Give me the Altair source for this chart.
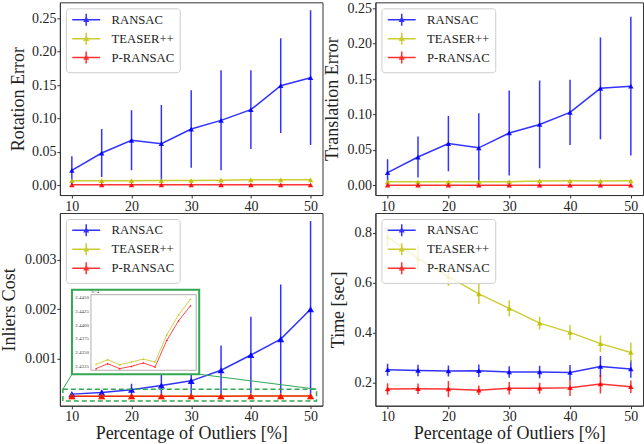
import altair as alt
import pandas as pd

# ---- data -------------------------------------------------------------
X = [10, 15, 20, 25, 30, 35, 40, 45, 50]
X_TICKS = [10, 20, 30, 40, 50]
SERIES = ["RANSAC", "TEASER++", "P-RANSAC"]
COLORS = ["#0000ff", "#bfbf00", "#ff0000"]

rot_ransac = [0.022, 0.048, 0.067, 0.062, 0.084, 0.097, 0.113, 0.149, 0.161]
rot_ransac_std = [0.021, 0.036, 0.045, 0.058, 0.058, 0.075, 0.059, 0.071, 0.101]
rot_teaser = [0.0065, 0.0066, 0.0066, 0.0067, 0.0068, 0.0072, 0.0078, 0.0079, 0.0079]
rot_teaser_std = [0.0005, 0.0005, 0.0005, 0.0005, 0.0005, 0.0006, 0.0006, 0.0006, 0.0006]
rot_prs = [0.0003, 0.0003, 0.0003, 0.0003, 0.0003, 0.0003, 0.0003, 0.0003, 0.0003]
rot_prs_std = [0.0002, 0.0002, 0.0002, 0.0002, 0.0002, 0.0002, 0.0002, 0.0002, 0.0002]

tr_ransac = [0.018, 0.040, 0.059, 0.053, 0.074, 0.086, 0.103, 0.137, 0.140]
tr_ransac_std = [0.019, 0.029, 0.039, 0.049, 0.060, 0.062, 0.046, 0.072, 0.098]
tr_teaser = [0.0050, 0.0050, 0.0050, 0.0051, 0.0052, 0.0062, 0.0064, 0.0060, 0.0064]
tr_teaser_std = [0.0005, 0.0005, 0.0005, 0.0005, 0.0005, 0.0006, 0.0006, 0.0006, 0.0006]
tr_prs = [0.0002, 0.0002, 0.0002, 0.0002, 0.0002, 0.0002, 0.0002, 0.0002, 0.0002]
tr_prs_std = [0.0002, 0.0002, 0.0002, 0.0002, 0.0002, 0.0002, 0.0002, 0.0002, 0.0002]

cost_ransac = [0.000284, 0.000318, 0.000371, 0.000458, 0.000552, 0.000766, 0.001074, 0.001395, 0.001997]
cost_ransac_std = [0.00002, 0.00005, 0.00012, 0.00022, 0.00030, 0.00050, 0.00077, 0.00110, 0.00178]
# TEASER++ / P-RANSAC inlier cost, in units of 1e-4
cost_teaser_e4 = [2.43274, 2.43359, 2.43268, 2.43317, 2.43371, 2.43317, 2.43820, 2.44184, 2.44470]
cost_prs_e4 = [2.43195, 2.43286, 2.43195, 2.43238, 2.43299, 2.43226, 2.43717, 2.44075, 2.44348]
cost_small_std = [0.000002, 0.000002, 0.000002, 0.000002, 0.000002, 0.000002, 0.000002, 0.000002, 0.000002]

time_ransac = [0.253, 0.250, 0.248, 0.249, 0.244, 0.244, 0.242, 0.266, 0.256]
time_ransac_std = [0.024, 0.023, 0.022, 0.025, 0.023, 0.025, 0.030, 0.042, 0.035]
time_teaser = [0.784, 0.698, 0.625, 0.556, 0.498, 0.439, 0.402, 0.357, 0.322]
time_teaser_std = [0.040, 0.050, 0.038, 0.041, 0.032, 0.025, 0.030, 0.033, 0.040]
time_prs = [0.176, 0.177, 0.176, 0.171, 0.179, 0.179, 0.181, 0.196, 0.185]
time_prs_std = [0.023, 0.021, 0.032, 0.019, 0.025, 0.022, 0.033, 0.038, 0.025]

inset_ticks = [2.4325, 2.4350, 2.4375, 2.4400, 2.4425, 2.4450]

# ---- styling ------------------------------------------------------------
FONT = "Liberation Serif"
GREEN = "#33a852"
X_DOMAIN = [8, 52]
PANEL_H = 193

# zoom window / inset placement (bottom-left panel data coordinates)
ZOOM_BOX = {"x0": 8.5, "x1": 51.0, "y0": 0.000143, "y1": 0.000383}
INSET_FRAME = {"x0": 10.02, "x1": 31.34, "y0": 0.000685, "y1": 0.002392}
INSET_AXES = {"x0": 13.2, "x1": 30.84, "y0": 0.000765, "y1": 0.002291}
INSET_XDOM = [7.87, 52.4]
INSET_YDOM = [2.43165, 2.44549]

LEGEND_SYMBOL = "M-1,0H4.6M1.8,-1.2V1.2M1.45,0.3H2.15L1.8,-0.4Z"


def legend():
    return alt.Legend(
        orient="top-left", offset=6, title=None,
        fillColor="rgba(255,255,255,0.8)", strokeColor="#cccccc", cornerRadius=3,
        padding=5, symbolType=LEGEND_SYMBOL, symbolSize=100, symbolStrokeWidth=1.5,
        labelFont=FONT, labelFontSize=12.7, labelColor="#222222", labelOffset=28,
        rowPadding=0,
    )


def series_frame(means, stds):
    rows = []
    for name, m, s in zip(SERIES, means, stds):
        for xv, mv, sv in zip(X, m, s):
            rows.append({"x": xv, "series": name, "mean": mv, "lo": mv - sv, "hi": mv + sv})
    return pd.DataFrame(rows)


def panel(df, ydom, yvals, yfmt, ytitle, xtitle, width, msize, title_pad, extra=None):
    xaxis = alt.Axis(values=X_TICKS, format="d", title=xtitle, titlePadding=1)
    yaxis = alt.Axis(values=yvals, format=yfmt, title=ytitle, titlePadding=title_pad)
    xs = alt.Scale(domain=X_DOMAIN, nice=False, zero=False)
    ys = alt.Scale(domain=ydom, nice=False, zero=False)
    cs = alt.Scale(domain=SERIES, range=COLORS)

    def X_(f):
        return alt.X(f, scale=xs, axis=xaxis)

    def Y_(f):
        return alt.Y(f, scale=ys, axis=yaxis)

    base = alt.Chart(df)
    line = base.mark_line(strokeWidth=1.5, opacity=0.8, clip=True).encode(
        x=X_("x:Q"), y=Y_("mean:Q"), color=alt.Color("series:N", scale=cs, legend=legend()))
    bars = base.mark_rule(strokeWidth=1.5, opacity=0.8, clip=True).encode(
        x=X_("x:Q"), y=Y_("lo:Q"), y2="hi:Q", color=alt.Color("series:N", scale=cs, legend=None))
    pts = base.mark_point(shape="triangle-up", filled=True, size=msize, opacity=0.9, clip=True).encode(
        x=X_("x:Q"), y=Y_("mean:Q"), color=alt.Color("series:N", scale=cs, legend=None))
    layers = [line, bars, pts]
    if extra:
        layers += extra(X_, Y_, cs)
    return alt.layer(*layers).properties(width=width, height=PANEL_H)


def inset_layers(X_, Y_, cs):
    ax = INSET_AXES

    def mx(v):
        return ax["x0"] + (v - INSET_XDOM[0]) / (INSET_XDOM[1] - INSET_XDOM[0]) * (ax["x1"] - ax["x0"])

    def my(v):
        return ax["y0"] + (v - INSET_YDOM[0]) / (INSET_YDOM[1] - INSET_YDOM[0]) * (ax["y1"] - ax["y0"])

    zoom = alt.Chart(pd.DataFrame([ZOOM_BOX])).mark_rect(
        fillOpacity=0, stroke=GREEN, strokeWidth=1.5, strokeDash=[5, 3]).encode(
        x=X_("x0:Q"), x2="x1:Q", y=Y_("y0:Q"), y2="y1:Q")
    links = pd.DataFrame({
        "xa": [INSET_FRAME["x0"], INSET_FRAME["x1"]],
        "ya": [INSET_FRAME["y0"], INSET_FRAME["y0"]],
        "xb": [ZOOM_BOX["x0"], ZOOM_BOX["x1"]],
        "yb": [ZOOM_BOX["y1"], ZOOM_BOX["y1"]],
    })
    connectors = alt.Chart(links).mark_rule(stroke=GREEN, strokeWidth=1).encode(
        x=X_("xa:Q"), y=Y_("ya:Q"), x2="xb:Q", y2="yb:Q")
    frame = alt.Chart(pd.DataFrame([INSET_FRAME])).mark_rect(
        fill="white", stroke=GREEN, strokeWidth=2).encode(
        x=X_("x0:Q"), x2="x1:Q", y=Y_("y0:Q"), y2="y1:Q")
    axes_box = alt.Chart(pd.DataFrame([INSET_AXES])).mark_rect(
        fill="white", stroke="#9a9a9a", strokeWidth=0.8).encode(
        x=X_("x0:Q"), x2="x1:Q", y=Y_("y0:Q"), y2="y1:Q")

    rows = []
    for name, vals in (("TEASER++", cost_teaser_e4), ("P-RANSAC", cost_prs_e4)):
        for xv, v in zip(X, vals):
            rows.append({"series": name, "ix": mx(xv), "iy": my(v)})
    idf = pd.DataFrame(rows)
    ilines = alt.Chart(idf).mark_line(strokeWidth=0.9, opacity=0.8).encode(
        x=X_("ix:Q"), y=Y_("iy:Q"), color=alt.Color("series:N", scale=cs, legend=None))
    ipts = alt.Chart(idf).mark_point(shape="triangle-up", filled=True, size=4, opacity=0.9).encode(
        x=X_("ix:Q"), y=Y_("iy:Q"), color=alt.Color("series:N", scale=cs, legend=None))

    tdf = pd.DataFrame({"tx": [ax["x0"]] * len(inset_ticks),
                        "ty": [my(t) for t in inset_ticks],
                        "label": [f"{t:.4f}" for t in inset_ticks]})
    tlabels = alt.Chart(tdf).mark_text(align="right", baseline="middle", dx=-2, fontSize=5,
                                       font=FONT, color="#444444").encode(
        x=X_("tx:Q"), y=Y_("ty:Q"), text="label:N")
    odf = pd.DataFrame({"tx": [ax["x0"]], "ty": [ax["y1"]], "label": ["1e\u22124"]})
    offset_label = alt.Chart(odf).mark_text(align="left", baseline="bottom", dy=-1, fontSize=4,
                                            font=FONT, color="#444444").encode(
        x=X_("tx:Q"), y=Y_("ty:Q"), text="label:N")
    return [zoom, connectors, frame, axes_box, ilines, ipts, tlabels, offset_label]


rot_df = series_frame([rot_ransac, rot_teaser, rot_prs], [rot_ransac_std, rot_teaser_std, rot_prs_std])
tr_df = series_frame([tr_ransac, tr_teaser, tr_prs], [tr_ransac_std, tr_teaser_std, tr_prs_std])
cost_df = series_frame([cost_ransac, [v * 1e-4 for v in cost_teaser_e4], [v * 1e-4 for v in cost_prs_e4]],
                       [cost_ransac_std, cost_small_std, cost_small_std])
time_df = series_frame([time_ransac, time_teaser, time_prs], [time_ransac_std, time_teaser_std, time_prs_std])

top_left = panel(rot_df, [-0.015, 0.274], [0, 0.05, 0.10, 0.15, 0.20, 0.25], ".2f",
                 "Rotation Error", None, 263, 30, 4)
top_right = panel(tr_df, [-0.0137, 0.2585], [0, 0.05, 0.10, 0.15, 0.20, 0.25], ".2f",
                  "Translation Error", None, 268, 30, 5)
bottom_left = panel(cost_df, [0.00005, 0.00394], [0.001, 0.002, 0.003], ".3f",
                    "Inliers Cost", "Percentage of Outliers [%]", 263, 50, 6, extra=inset_layers)
bottom_right = panel(time_df, [0.109, 0.879], [0.2, 0.4, 0.6, 0.8], ".1f",
                     "Time [sec]", "Percentage of Outliers [%]", 268, 30, 6)

chart = alt.concat(
    top_left, top_right, bottom_left, bottom_right,
    columns=2, spacing=alt.RowColnumber(row=18, column=53), bounds="flush", align="each",
).resolve_scale(color="independent").resolve_legend(color="independent").properties(
    padding={"left": 0, "top": 0, "right": 0, "bottom": 0}
).configure_view(
    stroke="#333333", strokeWidth=1
).configure_axis(
    labelFont=FONT, titleFont=FONT, labelFontSize=14, titleFontSize=18, titleFontWeight="normal",
    labelColor="#222222", titleColor="#222222", tickSize=3, labelPadding=1,
    domainColor="#333333", tickColor="#333333", grid=False,
)

chart.save("out.html", embed_options={"renderer": "svg", "actions": False})
